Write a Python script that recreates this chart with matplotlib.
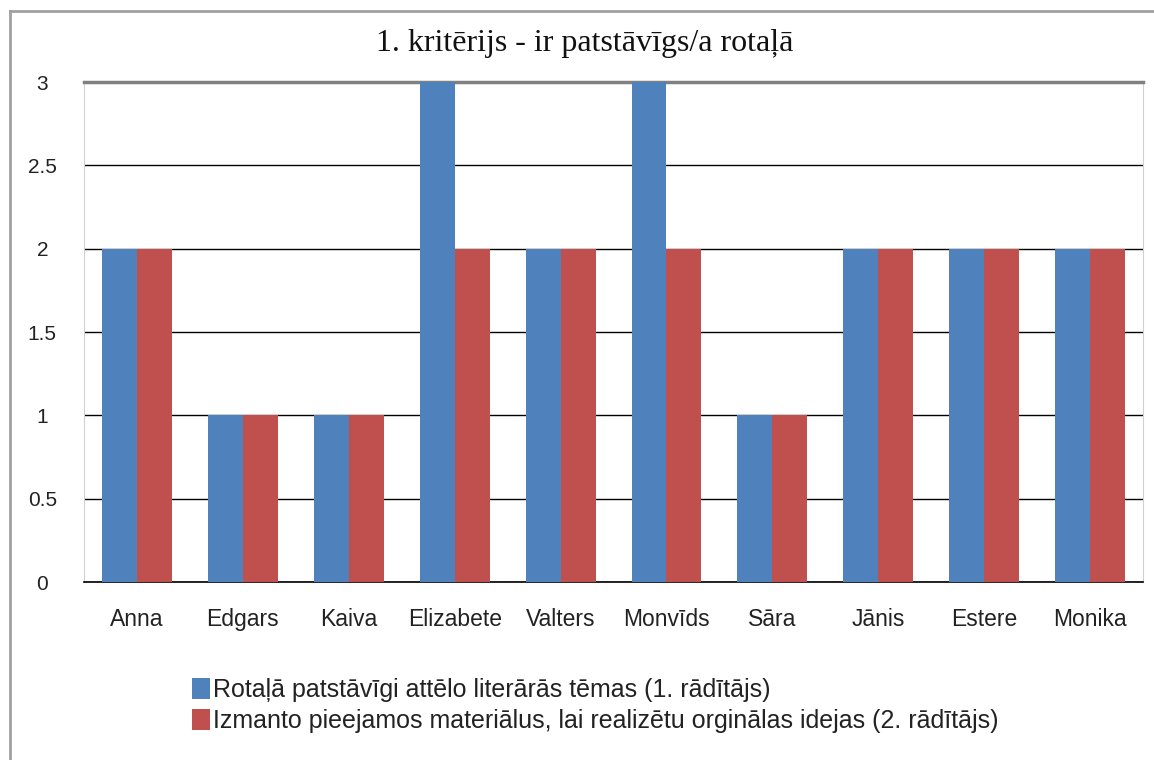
import numpy as np
import matplotlib.pyplot as plt
from matplotlib.lines import Line2D

# data
names = ["Anna", "Edgars", "Kaiva", "Elizabete", "Valters", "Monvīds", "Sāra", "Jānis", "Estere", "Monika"]
rad1 = [2, 1, 1, 3, 2, 3, 1, 2, 2, 2]
rad2 = [2, 1, 1, 2, 2, 2, 1, 2, 2, 2]
label1 = "Rotaļā patstāvīgi attēlo literārās tēmas (1. rādītājs)"
label2 = "Izmanto pieejamos materiālus, lai realizētu orginālas idejas (2. rādītājs)"
title = "1. kritērijs - ir patstāvīgs/a rotaļā"

fig = plt.figure(figsize=(11.54, 7.6), dpi=100)
ax = fig.add_axes([0.0728, 0.2342, 0.9177, 0.6579])

x = np.arange(len(names))
w = 0.33
ax.bar(x - w / 2, rad1, w, color="#4F81BD", label=label1, zorder=3)
ax.bar(x + w / 2, rad2, w, color="#C0504D", label=label2, zorder=3)

ax.set_xlim(-0.5, len(names) - 0.5)
ax.set_ylim(0, 3)
ax.set_yticks([0, 0.5, 1, 1.5, 2, 2.5, 3])
ax.set_yticklabels(["0", "0.5", "1", "1.5", "2", "2.5", "3"])
ax.set_xticks(x)
ax.set_xticklabels(names)
ax.yaxis.grid(True, color="black", linewidth=1.0, zorder=0)
ax.tick_params(length=0)
ax.tick_params(axis="y", pad=30, labelsize=15)
ax.tick_params(axis="x", pad=19, labelsize=16.5)
for lab in ax.get_yticklabels():
    lab.set_horizontalalignment("center")
for lab in ax.get_xticklabels() + ax.get_yticklabels():
    lab.set_fontfamily("Liberation Sans")
    lab.set_color("#222222")

ax.spines["left"].set_color("#D0D0D0")
ax.spines["right"].set_color("#D0D0D0")
ax.spines["top"].set_color("#808080")
ax.spines["top"].set_linewidth(2.5)
ax.spines["bottom"].set_color("black")
ax.spines["bottom"].set_linewidth(1.2)

fig.text(0.507, 0.943, title, ha="center", va="center", fontsize=23,
         fontfamily="Liberation Serif", color="#111111")

leg = fig.legend(loc="upper left", bbox_to_anchor=(0.166, 0.108), frameon=False,
                 prop={"family": "Liberation Sans", "size": 18},
                 handlelength=0.72, handleheight=0.9, handletextpad=0.15,
                 labelspacing=0.3, borderaxespad=0, borderpad=0)
for t in leg.get_texts():
    t.set_color("#222222")

# outer frame (top and left only, image is cropped)
fig.add_artist(Line2D([10 / 1154, 10 / 1154], [0, 1 - 11 / 760], color="#A0A0A0", lw=2))
fig.add_artist(Line2D([10 / 1154, 1], [1 - 11 / 760, 1 - 11 / 760], color="#A0A0A0", lw=2))

fig.savefig("out.png", dpi=100)
